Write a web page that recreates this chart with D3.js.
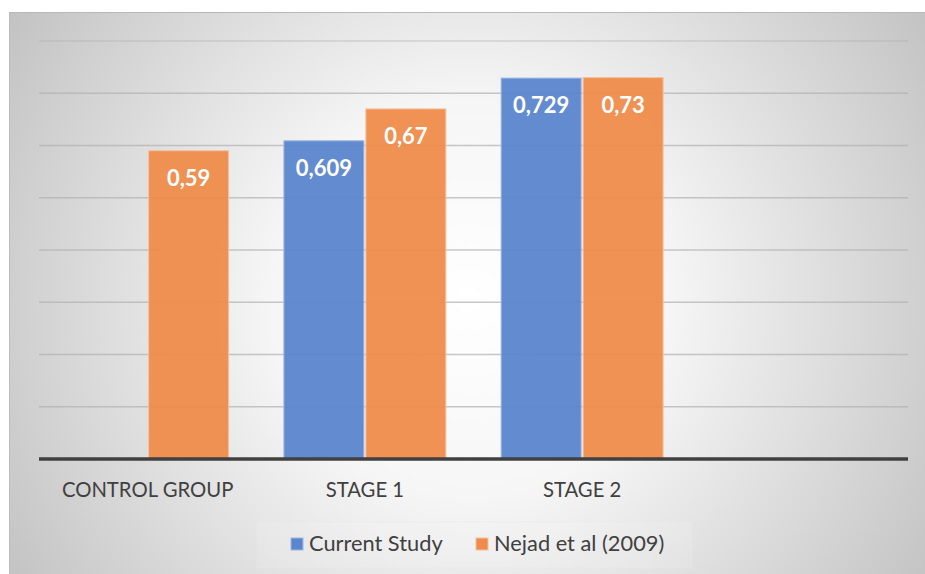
<!DOCTYPE html>
<html>
<head>
<meta charset="utf-8">
<script src="https://cdn.jsdelivr.net/npm/d3@7"></script>
<style>
  html, body { margin: 0; padding: 0; background: #ffffff; }
  svg { display: block; }
  text { font-family: Lato, "Open Sans", sans-serif; }
</style>
</head>
<body>
<svg id="chart" width="925" height="574"></svg>
<script>
// Categories along the x axis (the last slot is intentionally left empty)
const categories = ["CONTROL GROUP", "STAGE 1", "STAGE 2", ""];
const seriesNames = ["Current Study", "Nejad et al (2009)"];
const currentStudy = [null, 0.609, 0.729, null];
const nejad2009 = [0.59, 0.67, 0.73, null];
const gridTicks = [0.1, 0.2, 0.3, 0.4, 0.5, 0.6, 0.7, 0.8];

const colors = ["#5B86CE", "#EE8C4B"];
const strokes = ["#9cb6e3", "#f6c09c"];

const W = 925, H = 574;
const svg = d3.select("#chart");

// Background: soft radial gradient panel
const defs = svg.append("defs");
const grad = defs.append("radialGradient")
  .attr("id", "bg")
  .attr("gradientUnits", "userSpaceOnUse")
  .attr("cx", 470).attr("cy", 300).attr("r", 560);
grad.append("stop").attr("offset", "0").attr("stop-color", "#ffffff");
grad.append("stop").attr("offset", "0.35").attr("stop-color", "#f6f6f6");
grad.append("stop").attr("offset", "1").attr("stop-color", "#c0c0c0");

svg.append("rect")
  .attr("x", 9).attr("y", 12).attr("width", W - 9).attr("height", H - 12)
  .attr("fill", "url(#bg)");
svg.append("line")
  .attr("x1", 9).attr("x2", W).attr("y1", 12.5).attr("y2", 12.5)
  .attr("stroke", "#b8b8b8").attr("stroke-width", 1);
svg.append("line")
  .attr("x1", 9.5).attr("x2", 9.5).attr("y1", 12).attr("y2", H)
  .attr("stroke", "#bcbcbc").attr("stroke-width", 1);

// Scales
const plotLeft = 39, plotRight = 908, baseY = 459, topY = 41;
const y = d3.scaleLinear().domain([0, 0.8]).range([baseY, topY]);
const x = d3.scaleBand().domain(categories).range([plotLeft, plotRight])
  .paddingInner(0.25).paddingOuter(0.125);
const xs = d3.scaleBand().domain(seriesNames).range([0, x.bandwidth()]).paddingInner(0.012);

// Gridlines
svg.append("g")
  .selectAll("line")
  .data(gridTicks)
  .join("line")
  .attr("x1", plotLeft).attr("x2", plotRight)
  .attr("y1", d => y(d)).attr("y2", d => y(d))
  .attr("stroke", "#b0b0b0").attr("stroke-opacity", d => d === 0.8 ? 0.45 : 0.7).attr("stroke-width", 1.5);

// Bars
const rows = [];
categories.forEach((c, i) => {
  [currentStudy, nejad2009].forEach((arr, s) => {
    if (arr[i] != null) rows.push({ cat: c, series: seriesNames[s], s, value: arr[i] });
  });
});

const bars = svg.append("g");
bars.selectAll("rect")
  .data(rows)
  .join("rect")
  .attr("x", d => x(d.cat) + xs(d.series) + 0.5)
  .attr("y", d => y(d.value))
  .attr("width", xs.bandwidth() - 1)
  .attr("height", d => baseY - y(d.value))
  .attr("fill", d => colors[d.s])
  .attr("fill-opacity", 0.95)
  .attr("stroke", d => strokes[d.s])
  .attr("stroke-width", 1);

// Value labels inside bars
const fmt = v => String(v).replace(".", ",");
bars.selectAll("text")
  .data(rows)
  .join("text")
  .attr("x", d => x(d.cat) + xs(d.series) + xs.bandwidth() / 2)
  .attr("y", d => y(d.value) + 35)
  .attr("text-anchor", "middle")
  .attr("fill", "#ffffff")
  .attr("font-weight", "bold")
  .attr("font-size", 22)
  .text(d => fmt(d.value));

// Baseline (x axis)
svg.append("line")
  .attr("x1", plotLeft).attr("x2", plotRight)
  .attr("y1", baseY).attr("y2", baseY)
  .attr("stroke", "#404040").attr("stroke-width", 3.5);

// Category labels via the band axis
const xAxis = svg.append("g")
  .attr("transform", `translate(0,${baseY})`)
  .call(d3.axisBottom(x).tickSize(0).tickPadding(0));
xAxis.select(".domain").remove();
xAxis.selectAll("text")
  .attr("y", 38)
  .attr("dy", 0)
  .attr("fill", "#404040")
  .attr("font-size", 20.3)
  .style("font-family", "Lato, 'Open Sans', sans-serif");

// Legend
const legend = svg.append("g");
legend.append("rect")
  .attr("x", 257).attr("y", 522).attr("width", 435).attr("height", 46)
  .attr("fill", "#ffffff").attr("fill-opacity", 0.12)
  .attr("stroke", "#e8e8e8").attr("stroke-opacity", 0.5);
const legendX = [291, 476];
seriesNames.forEach((name, i) => {
  legend.append("rect")
    .attr("x", legendX[i]).attr("y", 538).attr("width", 12).attr("height", 12)
    .attr("fill", colors[i]).attr("stroke", strokes[i]).attr("stroke-width", 1);
  legend.append("text")
    .attr("x", legendX[i] + 18).attr("y", 551)
    .attr("fill", "#404040")
    .attr("font-size", 21.8)
    .text(name);
});
</script>
</body>
</html>
